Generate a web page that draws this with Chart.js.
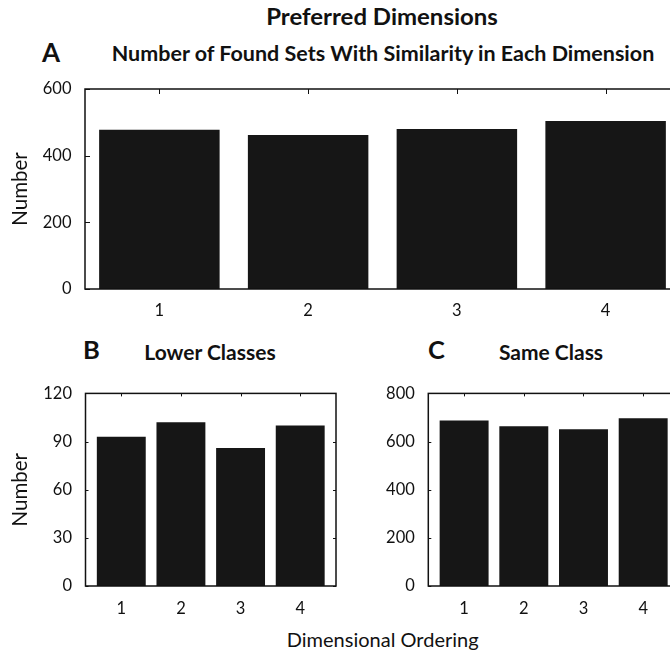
<!DOCTYPE html>
<html>
<head>
<meta charset="utf-8">
<script src="https://cdn.jsdelivr.net/npm/chart.js@4/dist/chart.umd.min.js"></script>
<style>
  html, body { margin: 0; padding: 0; background: #fff; overflow: hidden; }
  body { width: 670px; height: 652px; position: relative; font-family: Lato, "Open Sans", sans-serif; color: #111; }
  .box { position: absolute; }
  .txt { position: absolute; white-space: nowrap; line-height: 1; }
  .c { transform: translateX(-50%); }
  .b { font-weight: bold; }
</style>
</head>
<body>
<div class="txt b" style="left:382px; top:5.6px; font-size:22px; transform:translateX(-50%) scaleX(1.09);">Preferred Dimensions</div>
<div class="txt b" style="left:42px; top:39px; font-size:26px;">A</div>
<div class="txt c b" style="left:383px; top:43.3px; font-size:21.5px;">Number of Found Sets With Similarity in Each Dimension</div>
<div class="txt b" style="left:83px; top:337.4px; font-size:25.5px;">B</div>
<div class="txt c b" style="left:210px; top:341.4px; font-size:21px;">Lower Classes</div>
<div class="txt b" style="left:428px; top:337.4px; font-size:25.5px;">C</div>
<div class="txt c b" style="left:551px; top:341.4px; font-size:21px;">Same Class</div>
<div class="txt c" style="left:382.7px; top:629.3px; font-size:20px;">Dimensional Ordering</div>

<div class="box" style="left:0; top:0; width:700px; height:330px;"><canvas id="chartA" width="700" height="330"></canvas></div>
<div class="box" style="left:0; top:370px; width:340px; height:255px;"><canvas id="chartB" width="340" height="255"></canvas></div>
<div class="box" style="left:340px; top:370px; width:360px; height:255px;"><canvas id="chartC" width="360" height="255"></canvas></div>

<script>
// dimensional ordering (x categories)
const orderings = [1, 2, 3, 4];

// A: number of found sets with similarity in each dimension
const foundSets = [478, 462, 480, 504];
const ticksA = [0, 200, 400, 600];

// B: lower classes
const lowerClasses = [93, 102, 86, 100];
const ticksB = [0, 30, 60, 90, 120];

// C: same class
const sameClass = [687, 664, 651, 697];
const ticksC = [0, 200, 400, 600, 800];

const FONT = "Lato, 'Open Sans', sans-serif";
const INK = "#111";

// box around the plot + inward tick marks on all four sides
const boxTicks = {
  id: "boxTicks",
  afterDatasetsDraw(chart, args, opts) {
    const { ctx, chartArea: a } = chart;
    const xs = chart.scales.x, ys = chart.scales.y;
    const len = opts.len;
    ctx.save();
    ctx.strokeStyle = INK;
    ctx.lineWidth = 1;
    ctx.beginPath();
    xs.ticks.forEach(t => {
      const px = Math.round(xs.getPixelForValue(t.value)) + 0.5;
      ctx.moveTo(px, a.top); ctx.lineTo(px, a.top + len);
    });
    ys.ticks.forEach(t => {
      const py = Math.round(ys.getPixelForValue(t.value)) + 0.5;
      ctx.moveTo(a.left, py); ctx.lineTo(a.left + len, py);
      ctx.moveTo(a.right, py); ctx.lineTo(a.right - len, py);
    });
    ctx.stroke();
    ctx.lineWidth = 1.5;
    ctx.strokeRect(a.left, a.top, a.right - a.left, a.bottom - a.top);
    ctx.restore();
  }
};

function makeChart(id, values, yTicks, cfg) {
  const ctx = document.getElementById(id).getContext("2d");
  return new Chart(ctx, {
    type: "bar",
    data: {
      datasets: [{
        data: orderings.map((o, i) => ({ x: o, y: values[i] })),
        backgroundColor: "#161616",
        borderWidth: 0,
        barPercentage: cfg.barPct,
        categoryPercentage: 1.0,
      }],
    },
    plugins: [boxTicks],
    options: {
      responsive: false,
      animation: false,
      layout: { padding: { top: cfg.padTop, right: cfg.padRight, left: 0, bottom: 0 } },
      plugins: {
        legend: { display: false },
        tooltip: { enabled: false },
        boxTicks: { len: cfg.tickLen },
      },
      scales: {
        x: {
          type: "linear",
          offset: false,
          min: cfg.xMin,
          max: cfg.xMax,
          grid: { display: false, drawTicks: false, tickLength: 0 },
          border: { display: false },
          afterBuildTicks: s => { s.ticks = orderings.map(v => ({ value: v })); },
          afterFit: s => { s.height = cfg.xHeight; },
          ticks: { color: INK, font: { family: FONT, size: 16.5 }, padding: cfg.xPad, maxRotation: 0 },
        },
        y: {
          min: 0,
          max: yTicks[yTicks.length - 1],
          grid: { display: false, drawTicks: false, tickLength: 0 },
          border: { display: false },
          afterBuildTicks: s => { s.ticks = yTicks.map(v => ({ value: v })); },
          afterFit: s => { s.width = cfg.yWidth; },
          ticks: { color: INK, font: { family: FONT, size: 16.5 }, padding: 13.5 },
          title: {
            display: !!cfg.yTitle,
            text: cfg.yTitle || "",
            color: INK,
            font: { family: FONT, size: 20.5 },
            padding: { top: 8.5, bottom: 0 },
          },
        },
      },
    },
  });
}

makeChart("chartA", foundSets, ticksA, {
  barPct: 0.81, xMin: 0.5, xMax: 4.5, tickLen: 5, xPad: 12,
  padTop: 89, padRight: 20, yWidth: 85, xHeight: 41, yTitle: "Number",
});
makeChart("chartB", lowerClasses, ticksB, {
  barPct: 0.82, xMin: 0.4, xMax: 4.6, tickLen: 3, xPad: 13,
  padTop: 15, padRight: 4, yWidth: 85.5, xHeight: 39, yTitle: "Number",
});
makeChart("chartC", sameClass, ticksC, {
  barPct: 0.82, xMin: 0.4, xMax: 4.6, tickLen: 3, xPad: 13,
  padTop: 15, padRight: 21, yWidth: 88.3, xHeight: 39, yTitle: "",
});
</script>
</body>
</html>
